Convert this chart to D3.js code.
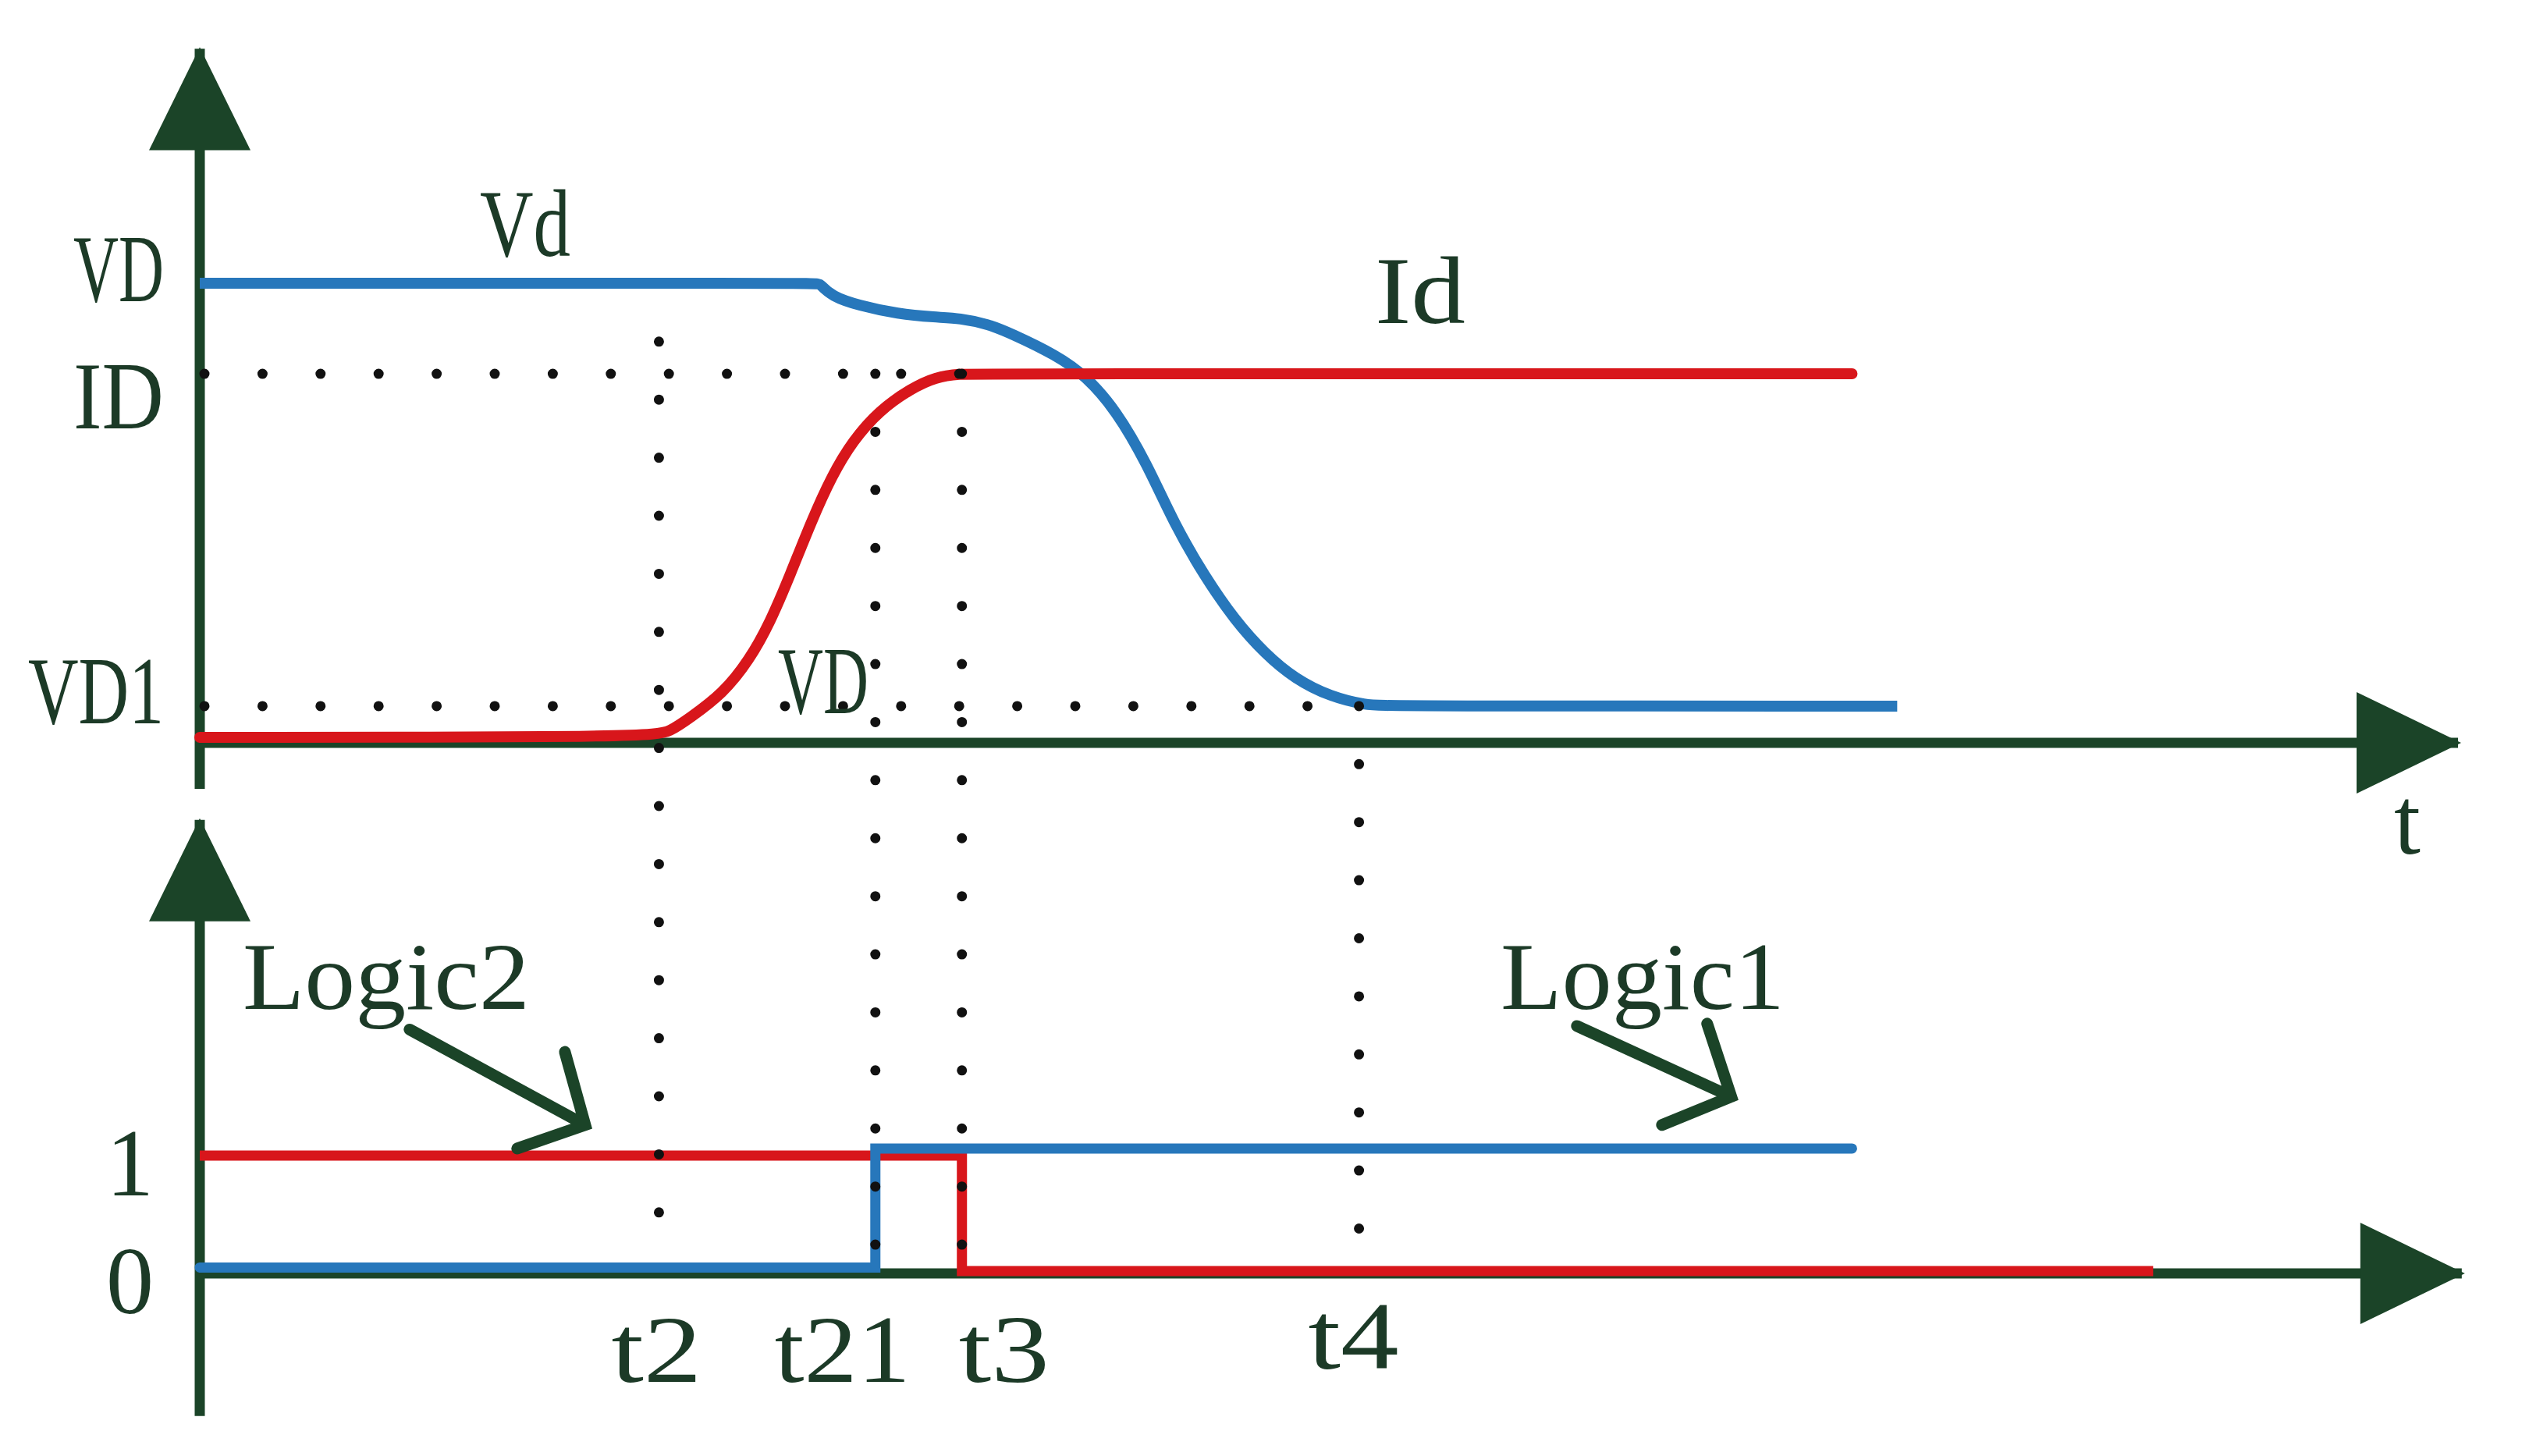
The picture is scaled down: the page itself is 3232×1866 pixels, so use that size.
<!DOCTYPE html>
<html>
<head>
<meta charset="utf-8">
<script src="https://cdn.jsdelivr.net/npm/d3@7"></script>
<style>
  body { margin: 0; background: #fff; }
  svg { display: block; }
</style>
</head>
<body>
<script>
(function () {
    //series: time in arbitrary units, upper panel normalised to VD = 1
    var vdTime  = [0, 3.29, 3.29, 3.36, 3.50, 3.71, 3.91, 4.04, 4.19, 4.31, 4.55, 4.71, 4.87, 5.03, 5.18, 5.34, 5.50, 5.66, 5.82, 6.01, 6.20, 6.30, 9.02];
    var vdValue = [1, 1, 1, 0.971, 0.952, 0.933, 0.926, 0.924, 0.911, 0.891, 0.844, 0.798, 0.723, 0.610, 0.475, 0.362, 0.267, 0.194, 0.139, 0.100, 0.082, 0.080, 0.080];
    var idTime  = [0, 2.40, 2.50, 2.60, 2.78, 2.92, 3.03, 3.14, 3.25, 3.36, 3.47, 3.61, 3.78, 3.91, 4.04, 4.15, 8.78];
    var idValue = [0.012, 0.012, 0.025, 0.053, 0.107, 0.180, 0.261, 0.368, 0.482, 0.582, 0.657, 0.723, 0.771, 0.796, 0.803, 0.803, 0.803];

    //logic signals (lower panel), step shaped
    var logic1Time  = [0, 3.59, 3.59, 8.78];
    var logic1Value = [0.05, 0.05, 1.06, 1.06];
    var logic2Time  = [0, 4.05, 4.05, 10.38];
    var logic2Value = [1, 1, 0.02, 0.02];

    //tick labels on the time axis
    var tickNames = ["t2", "t21", "t3", "t4"];
    var tickTimes = [2.44, 3.59, 4.05, 6.16];

    //level labels
    var upperNames  = ["VD", "ID", "VD1"];
    var upperLevels = [1, 0.803, 0.080];
    var lowerNames  = ["1", "0"];
    var lowerLevels = [1, 0];

    //dotted guide extents: vertical guides start in the upper panel, end in the lower one
    var guideTop    = [0.873, 0.803, 0.803, 0.080];
    var guideBottom = [0.48, 0, 0, 0];

    //frame
    var width = 3232, height = 1866;
    var axisColor = "#1b4428", textColor = "#1c3a27";
    var blue = "#2777bb", red = "#d8161b";
    var fontSize = 122;

    var svg = d3.select("body").append("svg")
        .attr("width", width)
        .attr("height", height);

    var x = d3.scaleLinear().domain([0, 12]).range([256, 3150]);
    var yTop = d3.scaleLinear().domain([0, 1]).range([952, 363]);
    var yBot = d3.scaleLinear().domain([0, 1]).range([1632, 1481]);

    var zip = function (ts, vs) { return ts.map(function (t, i) { return [t, vs[i]]; }); };
    var lineTop = d3.line().x(function (d) { return x(d[0]); }).y(function (d) { return yTop(d[1]); });
    var lineBot = d3.line().x(function (d) { return x(d[0]); }).y(function (d) { return yBot(d[1]); });

    //axes with filled arrow heads
    function axis(x1, y1, x2, y2, dir) {
        svg.append("line")
            .attr("x1", x1).attr("y1", y1).attr("x2", x2).attr("y2", y2)
            .attr("stroke", axisColor).attr("stroke-width", 13);
        var len = 130, half = 65, pts;
        if (dir == "up") {
            pts = [[x2, y2 - 2], [x2 - half, y2 + len], [x2 + half, y2 + len]];
        } else {
            pts = [[x2 + 4, y2], [x2 - len, y2 - half], [x2 - len, y2 + half]];
        }
        svg.append("polygon").attr("points", pts.join(" ")).attr("fill", axisColor);
    }
    axis(x(0), yTop(-0.1), x(0), yTop(1.51), "up");
    axis(x(0), yTop(0), x(12), yTop(0), "right");
    axis(x(0), yBot(-1.21), x(0), yBot(3.85), "up");
    axis(x(0), yBot(0), x(12.02), yBot(0), "right");

    //upper panel curves
    svg.append("path")
        .datum(zip(vdTime, vdValue))
        .attr("d", lineTop.curve(d3.curveBasis))
        .attr("fill", "none").attr("stroke", blue).attr("stroke-width", 14);
    svg.append("path")
        .datum(zip(idTime, idValue))
        .attr("d", lineTop.curve(d3.curveBasis))
        .attr("fill", "none").attr("stroke", red).attr("stroke-width", 14)
        .attr("stroke-linecap", "round");

    //lower panel steps
    svg.append("path")
        .datum(zip(logic2Time, logic2Value))
        .attr("d", lineBot.curve(d3.curveLinear))
        .attr("fill", "none").attr("stroke", red).attr("stroke-width", 13);
    svg.append("path")
        .datum(zip(logic1Time, logic1Value))
        .attr("d", lineBot.curve(d3.curveLinear))
        .attr("fill", "none").attr("stroke", blue).attr("stroke-width", 13)
        .attr("stroke-linecap", "round");

    //dotted guides
    var dots = svg.append("g")
        .attr("stroke", "#111").attr("stroke-width", 13)
        .attr("stroke-linecap", "round").attr("stroke-dasharray", "0 74.4");
    tickTimes.forEach(function (t, i) {
        dots.append("line")
            .attr("x1", x(t)).attr("x2", x(t))
            .attr("y1", yTop(guideTop[i])).attr("y2", yBot(guideBottom[i]));
    });
    //horizontal guides for ID (to t3) and VD1 (to t4)
    [[upperLevels[1], tickTimes[2]], [upperLevels[2], tickTimes[3]]].forEach(function (g) {
        dots.append("line")
            .attr("x1", x(0) + 6).attr("x2", x(g[1]))
            .attr("y1", yTop(g[0])).attr("y2", yTop(g[0]));
    });

    //text helper: the original font is a narrow half-width serif
    function label(txt, px, py, anchor) {
        var t = svg.append("text")
            .attr("x", px).attr("y", py)
            .attr("text-anchor", anchor || "middle")
            .attr("font-family", "'Liberation Serif', 'DejaVu Serif', serif")
            .attr("font-size", fontSize)
            .attr("fill", textColor)
            .text(txt);
        if (txt.length > 1) {
            t.attr("textLength", txt.length * 58).attr("lengthAdjust", "spacingAndGlyphs");
        }
        return t;
    }

    //level labels
    var upperDy = [23, 70, 22];
    upperNames.forEach(function (n, i) {
        label(n, 210, yTop(upperLevels[i]) + upperDy[i], "end");
    });
    lowerNames.forEach(function (n, i) {
        label(n, 197, yBot(lowerLevels[i]) + 51, "end");
    });

    //tick labels
    var tickDx = [-3, -42, 54, -7];
    var tickY  = [1771, 1771, 1771, 1754];
    tickNames.forEach(function (n, i) {
        label(n, x(tickTimes[i]) + tickDx[i], tickY[i]);
    });

    //series names
    label("Vd", 673, 328);
    label("Id", 1820, 414);
    label("VD", 1055, 914);
    label("t", 3085, 1094);
    label("Logic2", 495, 1293).attr("textLength", 368);
    label("Logic1", 2105, 1293).attr("textLength", 364);

    //open arrows pointing from the logic names to their lines
    var pointers = [
        { from: [1.115, 2.07], tip: [2.048, 1.26], arm1: [1.94, 1.88], arm2: [1.687, 1.06] },
        { from: [7.318, 2.10], tip: [8.138, 1.50], arm1: [8.01, 2.12], arm2: [7.77, 1.26] }
    ];
    pointers.forEach(function (p) {
        var pt = function (d) { return [x(d[0]), yBot(d[1])]; };
        svg.append("path")
            .attr("d", "M" + pt(p.from) + "L" + pt(p.tip) + "M" + pt(p.arm1) + "L" + pt(p.tip) + "L" + pt(p.arm2))
            .attr("fill", "none").attr("stroke", axisColor)
            .attr("stroke-width", 15).attr("stroke-linecap", "round").attr("stroke-linejoin", "miter");
    });
})();
</script>
</body>
</html>
